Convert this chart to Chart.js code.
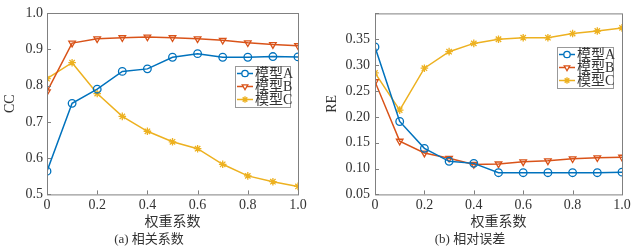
<!DOCTYPE html>
<html>
<head>
<meta charset="utf-8">
<script src="https://cdn.jsdelivr.net/npm/chart.js@4"></script>
<style>
  html, body { margin: 0; padding: 0; background: #fff; }
  .wrap { position: absolute; top: 0; height: 251px; }
  #left { left: 0; width: 318px; }
  #right { left: 318px; width: 317px; }
</style>
</head>
<body>
<div class="wrap" id="left"><canvas id="ccChart"></canvas></div>
<div class="wrap" id="right"><canvas id="reChart"></canvas></div>
<script>
// weight coefficient values on the x axis
const weights = [0, 0.1, 0.2, 0.3, 0.4, 0.5, 0.6, 0.7, 0.8, 0.9, 1.0];
const seriesNames = ['模型A', '模型B', '模型C'];

// (a) correlation coefficient
const ccA = [0.564, 0.751, 0.790, 0.839, 0.846, 0.878, 0.888, 0.878, 0.878, 0.880, 0.879];
const ccB = [0.783, 0.917, 0.929, 0.932, 0.934, 0.932, 0.929, 0.925, 0.918, 0.913, 0.910];
const ccC = [0.819, 0.863, 0.778, 0.715, 0.674, 0.645, 0.626, 0.583, 0.551, 0.535, 0.522];

// (b) relative error
const reA = [0.335, 0.191, 0.139, 0.114, 0.110, 0.092, 0.092, 0.092, 0.092, 0.092, 0.093];
const reB = [0.268, 0.153, 0.130, 0.120, 0.108, 0.109, 0.113, 0.115, 0.119, 0.121, 0.122];
const reC = [0.285, 0.213, 0.294, 0.326, 0.342, 0.350, 0.353, 0.353, 0.361, 0.366, 0.372];

const colors = ['#0072BD', '#D95319', '#EDB120'];
const styles = [
    { pointStyle: 'circle', rotation: 0 },
    { pointStyle: 'triangle', rotation: 180 },
    { pointStyle: 'star', rotation: 0 }
];
const serif = "'Liberation Serif', 'Noto Sans CJK SC', serif";
const axisColor = '#808080';
const textColor = '#333';

function makeDatasets(lists) {
    return lists.map((vals, i) => ({
        label: seriesNames[i],
        data: weights.map((x, j) => ({ x: x, y: vals[j] })),
        borderColor: colors[i],
        backgroundColor: 'rgba(0,0,0,0)',
        borderWidth: 1.5,
        pointStyle: styles[i].pointStyle,
        pointRotation: styles[i].rotation,
        pointRadius: 3.8,
        pointBorderWidth: 1.3,
        pointBorderColor: colors[i],
        pointBackgroundColor: 'rgba(0,0,0,0)',
        tension: 0
    }));
}

// box around the plot area plus inward tick marks
const framePlugin = {
    id: 'frame',
    afterDraw(chart) {
        const { ctx, chartArea: a, scales } = chart;
        ctx.save();
        ctx.strokeStyle = axisColor;
        ctx.lineWidth = 1;
        ctx.strokeRect(a.left + 0.5, a.top + 0.5, a.right - a.left, a.bottom - a.top);
        ctx.beginPath();
        scales.x.ticks.forEach(t => {
            const px = Math.round(scales.x.getPixelForValue(t.value)) + 0.5;
            ctx.moveTo(px, a.bottom);
            ctx.lineTo(px, a.bottom - 4);
        });
        scales.y.ticks.forEach(t => {
            const py = Math.round(scales.y.getPixelForValue(t.value)) + 0.5;
            ctx.moveTo(a.left, py);
            ctx.lineTo(a.left + 4, py);
        });
        ctx.stroke();
        ctx.restore();
    }
};

// legend box drawn inside the plot area
const boxLegendPlugin = {
    id: 'boxLegend',
    afterDraw(chart, args, opts) {
        const { ctx } = chart;
        const x = opts.x, y = opts.y, w = opts.w, rowH = 13;
        const h = rowH * 3 + 2;
        ctx.save();
        ctx.fillStyle = '#fff';
        ctx.fillRect(x, y, w, h);
        ctx.strokeStyle = '#999';
        ctx.lineWidth = 1;
        ctx.strokeRect(x + 0.5, y + 0.5, w, h);
        chart.data.datasets.forEach((ds, i) => {
            const cy = y + 1 + rowH / 2 + i * rowH;
            ctx.strokeStyle = ds.borderColor;
            ctx.lineWidth = 1.5;
            ctx.beginPath();
            ctx.moveTo(x + 2, cy);
            ctx.lineTo(x + 18, cy);
            ctx.stroke();
            ctx.lineWidth = 1.3;
            ctx.fillStyle = '#fff';
            Chart.helpers.drawPoint(ctx, {
                pointStyle: ds.pointStyle,
                rotation: ds.pointRotation,
                radius: 3.2,
                borderWidth: 1.3
            }, x + 10, cy);
            ctx.fillStyle = textColor;
            ctx.font = '14px ' + serif;
            ctx.textBaseline = 'middle';
            ctx.textAlign = 'left';
            ctx.fillText(ds.label, x + 20, cy + 0.5);
        });
        ctx.restore();
    }
};

function makeChart(id, lists, opts) {
    return new Chart(document.getElementById(id), {
        type: 'line',
        data: { datasets: makeDatasets(lists) },
        plugins: [framePlugin, boxLegendPlugin],
        options: {
            responsive: true,
            maintainAspectRatio: false,
            animation: false,
            layout: { padding: { top: 13, right: opts.padRight, bottom: 4, left: 0 } },
            plugins: {
                legend: { display: false },
                tooltip: { enabled: false },
                subtitle: {
                    display: true,
                    position: 'bottom',
                    text: opts.caption,
                    color: textColor,
                    font: { family: serif, size: 13 },
                    padding: { top: 0, bottom: 0 }
                },
                boxLegend: opts.legend
            },
            scales: {
                x: {
                    type: 'linear',
                    min: 0,
                    max: 1,
                    afterFit: s => { s.height = 37; },
                    border: { display: false },
                    grid: { display: false, drawTicks: false },
                    ticks: {
                        stepSize: 0.2,
                        color: textColor,
                        font: { family: serif, size: 14 },
                        padding: 3,
                        maxRotation: 0,
                        callback: v => v === 0 ? '0' : v.toFixed(1)
                    },
                    title: {
                        display: true,
                        text: '权重系数',
                        color: textColor,
                        font: { family: serif, size: 14 },
                        padding: { top: 0, bottom: 1 }
                    }
                },
                y: {
                    min: opts.yMin,
                    max: opts.yMax,
                    afterFit: s => { s.width = opts.yWidth; },
                    border: { display: false },
                    grid: { display: false, drawTicks: false },
                    ticks: {
                        stepSize: opts.yStep,
                        color: textColor,
                        font: { family: serif, size: 14 },
                        padding: opts.tickPad,
                        callback: opts.yFormat
                    },
                    title: {
                        display: true,
                        text: opts.yTitle,
                        color: textColor,
                        font: { family: serif, size: 14 },
                        padding: { top: opts.titlePad, bottom: 0 }
                    }
                }
            }
        }
    });
}

makeChart('ccChart', [ccA, ccB, ccC], {
    caption: '(a) 相关系数',
    yTitle: 'CC',
    yMin: 0.5, yMax: 1.0, yStep: 0.1,
    yFormat: v => v.toFixed(1),
    yWidth: 47, tickPad: 4, titlePad: 2,
    padRight: 20,
    legend: { x: 235, y: 66, w: 55 }
});

makeChart('reChart', [reA, reB, reC], {
    caption: '(b) 相对误差',
    yTitle: 'RE',
    yMin: 0.05, yMax: 0.40, yStep: 0.05,
    yFormat: v => Math.abs(v - 0.40) < 1e-6 ? '' : v.toFixed(2),
    yWidth: 57, tickPad: 5, titlePad: 6,
    padRight: 13,
    legend: { x: 239, y: 47, w: 56 }
});
</script>
</body>
</html>
